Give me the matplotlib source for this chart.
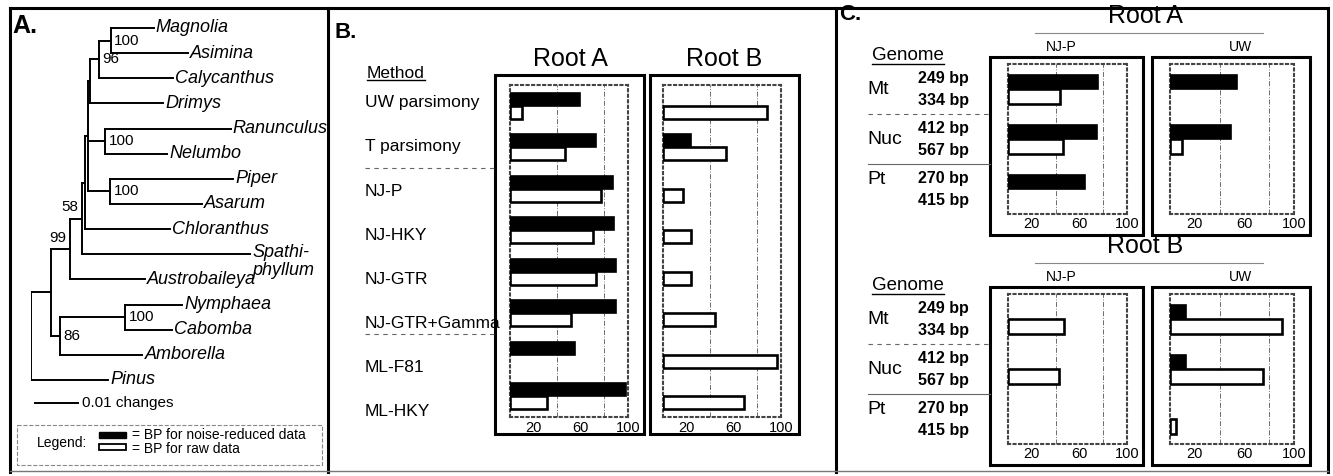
import numpy as np
import matplotlib
matplotlib.use('Agg')
import matplotlib.pyplot as plt
from matplotlib.patches import Rectangle

plt.rcParams['font.family'] = ['Liberation Sans', 'DejaVu Sans']

nan = np.nan

# Panel A - tree (branch lengths in changes per site), bootstrap values as node labels
tree_newick = ("(((((((((Magnolia:0.0100,Asimina:0.0179)100:0.0028,Calycanthus:0.0174)96:0.0019,"
               "Drimys:0.0170):0.0005,(Ranunculus:0.0291,Nelumbo:0.0144)100:0.0040,"
               "(Piper:0.0286,Asarum:0.0214)100:0.0051):0.0007,Chloranthus:0.0198):0.0007,"
               "Spathiphyllum:0.0391)58:0.0028,Austrobaileya:0.0174)99:0.0044,"
               "((Nymphaea:0.0133,Cabomba:0.0109)100:0.0151,Amborella:0.0191)86:0.0021):0.0047,"
               "Pinus:0.0179);")
scale_bar = 0.01

# Panel B - bootstrap support by method
methods = ['UW parsimony', 'T parsimony', 'NJ-P', 'NJ-HKY', 'NJ-GTR',
           'NJ-GTR+Gamma', 'ML-F81', 'ML-HKY']
b_rootA_nr = [59, 73, 87, 88, 90, 90, 55, 98]
b_rootA_raw = [10, 47, 77, 70, 73, 52, nan, 31]
b_rootB_nr = [nan, 24, nan, nan, nan, nan, nan, nan]
b_rootB_raw = [88, 53, 17, 24, 24, 44, 97, 69]

# Panel C - bootstrap support by genome
genomes = ['Mt', 'Nuc', 'Pt']
bp_nr = ['249 bp', '412 bp', '270 bp']
bp_raw = ['334 bp', '567 bp', '415 bp']
c_rootA_njp_nr = [76, 75, 65]
c_rootA_njp_raw = [44, 46, nan]
c_rootA_uw_nr = [54, 49, nan]
c_rootA_uw_raw = [nan, 10, nan]
c_rootB_njp_nr = [nan, nan, nan]
c_rootB_njp_raw = [47, 43, nan]
c_rootB_uw_nr = [13, 13, nan]
c_rootB_uw_raw = [90, 75, 5]

W, H = 1333, 476
fig = plt.figure(figsize=(W / 100, H / 100), dpi=100)
ov = fig.add_axes([0, 0, 1, 1])
ov.set_xlim(0, W)
ov.set_ylim(H, 0)
ov.axis('off')


def frac(x0, y0, x1, y1):
    return [x0 / W, 1 - y1 / H, (x1 - x0) / W, (y1 - y0) / H]


underline = []

# frame
K = dict(color='black', lw=2.2, solid_capstyle='projecting')
ov.plot([10, 1328], [8, 8], **K)
for x in [10, 328, 836, 1328]:
    ov.plot([x, x], [8, 472], **K)
ov.plot([10, 1328], [471, 471], color='#777', lw=1)

ov.text(12, 26, 'A.', fontsize=18, fontweight='bold', va='center')
ov.text(334, 32, 'B.', fontsize=16, fontweight='bold', va='center')
ov.text(839, 15, 'C.', fontsize=16, fontweight='bold', va='center')


# ---------- Panel A: tree ----------
def parse(s):
    pos = 0

    def node():
        nonlocal pos
        kids = []
        if s[pos] == '(':
            pos += 1
            kids.append(node())
            while s[pos] == ',':
                pos += 1
                kids.append(node())
            pos += 1
        start = pos
        while s[pos] not in ':,);':
            pos += 1
        label = s[start:pos]
        length = 0.0
        if s[pos] == ':':
            pos += 1
            start = pos
            while s[pos] not in ',);':
                pos += 1
            length = float(s[start:pos])
        return {'label': label, 'length': length, 'kids': kids}
    return node()


def layout(nd, x, leaves):
    nd['x'] = x + nd['length']
    if nd['kids']:
        for k in nd['kids']:
            layout(k, nd['x'], leaves)
        nd['y'] = (nd['kids'][0]['y'] + nd['kids'][-1]['y']) / 2
    else:
        nd['y'] = len(leaves)
        leaves.append(nd)


tree = parse(tree_newick)
leaves = []
layout(tree, 0.0, leaves)

ta = fig.add_axes(frac(31, 0, 332, H))
ta.set_xlim(0, 0.07)
ta.set_ylim((H - 28) / 25.14, -28 / 25.14)
ta.axis('off')
ta.patch.set_alpha(0)
TL = dict(color='black', lw=1.4, solid_capstyle='projecting')


def draw(nd):
    kids = nd['kids']
    if not kids:
        name = nd['label']
        if name == 'Spathiphyllum':
            ta.annotate('Spathi-\nphyllum', (nd['x'], nd['y']), xytext=(1.5, -5),
                        textcoords='offset points', fontsize=13, style='italic',
                        va='center', linespacing=1.05)
        else:
            ta.annotate(name, (nd['x'], nd['y']), xytext=(1.5, 0),
                        textcoords='offset points', fontsize=13, style='italic',
                        va='center')
        return
    for k in kids:
        ta.plot([nd['x'], k['x']], [k['y'], k['y']], **TL)
        draw(k)
    ta.plot([nd['x'], nd['x']], [kids[0]['y'], kids[-1]['y']], **TL)
    if nd['label']:
        if nd['label'] in ('58', '99'):
            ta.annotate(nd['label'], (nd['x'], nd['y']), xytext=(-3, 3),
                        textcoords='offset points', fontsize=11, ha='right', va='bottom')
        else:
            ta.annotate(nd['label'], (nd['x'], nd['y']), xytext=(2.5, 0),
                        textcoords='offset points', fontsize=11, ha='left', va='center')


draw(tree)
ta.plot([0.0009, 0.0009 + scale_bar], [len(leaves) - 0.1] * 2, **TL)
ta.annotate('0.01 changes', (0.0009 + scale_bar, len(leaves) - 0.1), xytext=(3, 0),
            textcoords='offset points', fontsize=11, va='center')

# legend
ov.add_patch(Rectangle((17, 425), 305, 40, fill=False, ec='#888', lw=0.8, ls='--'))
ov.text(37, 443, 'Legend:', fontsize=10, va='center')
ov.add_patch(Rectangle((99, 432), 27, 6, fc='black', ec='black', lw=1))
ov.add_patch(Rectangle((99, 444), 27, 6, fc='white', ec='black', lw=1.3))
ov.text(132, 435, '= BP for noise-reduced data', fontsize=10, va='center')
ov.text(132, 449, '= BP for raw data', fontsize=10, va='center')


# ---------- bar panel helper ----------
def bar_axes(box, nr, raw, bh, pad):
    x0, y0, x1, y1 = box
    ax = fig.add_axes(frac(x0, y0, x1, y1))
    nr = np.asarray(nr, float)
    raw = np.asarray(raw, float)
    rows = np.arange(len(nr))
    m = ~np.isnan(nr)
    ax.barh(rows[m] - bh / 2, nr[m], height=bh, color='black', ec='black', lw=1.2, zorder=3)
    m = ~np.isnan(raw)
    ax.barh(rows[m] + bh / 2, raw[m], height=bh, color='white', ec='black', lw=1.9, zorder=3)
    ax.set_xlim(0, 100)
    ax.set_ylim(len(nr) - 0.5, -0.5)
    ax.set_xticks([20, 60, 100])
    ax.set_xticks([20, 40, 60, 80], minor=True)
    ax.set_yticks([])
    ax.grid(which='minor', axis='x', color='#555', lw=0.6, ls=(0, (6, 2, 1, 2)))
    ax.tick_params(which='both', length=0, pad=pad, labelsize=10.5)
    ax.set_axisbelow(True)
    for s in ax.spines.values():
        s.set(color='#444', lw=1.5, ls=':')
    return ax


BOX = dict(fill=False, ec='black', lw=2.2)

# ---------- Panel B ----------
t = ov.text(367, 73, 'Method', fontsize=12.5, va='center')
underline.append(t)
for i, m in enumerate(methods):
    ov.text(365, 103 + 44 * i, m, fontsize=12.5, va='center')
row_h = (417 - 85) / len(methods)
for k in [2, 6]:
    ov.plot([365, 495], [85 + row_h * k] * 2, color='#666', lw=0.8, ls=(0, (4, 4)))

ov.text(570, 59, 'Root A', fontsize=18, ha='center', va='center')
ov.text(724, 59, 'Root B', fontsize=18, ha='center', va='center')
ov.add_patch(Rectangle((495, 75), 149, 359, **BOX))
ov.add_patch(Rectangle((650, 75), 149, 359, **BOX))
bar_axes((510, 85, 628, 417), b_rootA_nr, b_rootA_raw, 0.31, 3)
bar_axes((663, 85, 781, 417), b_rootB_nr, b_rootB_raw, 0.31, 3)

# ---------- Panel C ----------
c_blocks = [
    (0, 'Root A', c_rootA_njp_nr, c_rootA_njp_raw, c_rootA_uw_nr, c_rootA_uw_raw),
    (230, 'Root B', c_rootB_njp_nr, c_rootB_njp_raw, c_rootB_uw_nr, c_rootB_uw_raw),
]
for top, title, njp_nr, njp_raw, uw_nr, uw_raw in c_blocks:
    ov.text(1145, top + 16, title, fontsize=18, ha='center', va='center')
    ov.plot([1035, 1263], [top + 33] * 2, color='#888', lw=0.8)
    ov.text(1061, top + 47, 'NJ-P', fontsize=10, ha='center', va='center')
    ov.text(1240, top + 47, 'UW', fontsize=10, ha='center', va='center')
    t = ov.text(872, top + 56, 'Genome', fontsize=13.5, va='center')
    underline.append(t)
    iy0, iy1 = top + 64, top + 214
    rh = (iy1 - iy0) / len(genomes)
    for i, g in enumerate(genomes):
        yc = iy0 + (i + 0.5) * rh
        ov.text(867, yc - (10 if i == 2 else 0), g, fontsize=14, va='center')
        ov.text(918, yc - 11, bp_nr[i], fontsize=11.5, fontweight='bold', va='center')
        ov.text(918, yc + 11, bp_raw[i], fontsize=11.5, fontweight='bold', va='center')
    ov.plot([868, 990], [iy0 + rh] * 2, color='#666', lw=0.8, ls=(0, (4, 4)))
    ov.plot([868, 990], [iy0 + 2 * rh] * 2, color='#666', lw=0.8)
    ov.add_patch(Rectangle((990, top + 57), 153, 178, **BOX))
    ov.add_patch(Rectangle((1152, top + 57), 158, 178, **BOX))
    bar_axes((1008, iy0, 1127, iy1), njp_nr, njp_raw, 0.29, 2.5)
    bar_axes((1170, iy0, 1294, iy1), uw_nr, uw_raw, 0.29, 2.5)

# underlines under headings
fig.canvas.draw()
r = fig.canvas.get_renderer()
inv = ov.transData.inverted()
for t in underline:
    bb = t.get_window_extent(renderer=r)
    (xa, ya), (xb, yb) = inv.transform([[bb.x0, bb.y0], [bb.x1, bb.y1]])
    ov.plot([xa, xb], [max(ya, yb) - 1] * 2, color='black', lw=1)

fig.savefig('out.png', dpi=100)
